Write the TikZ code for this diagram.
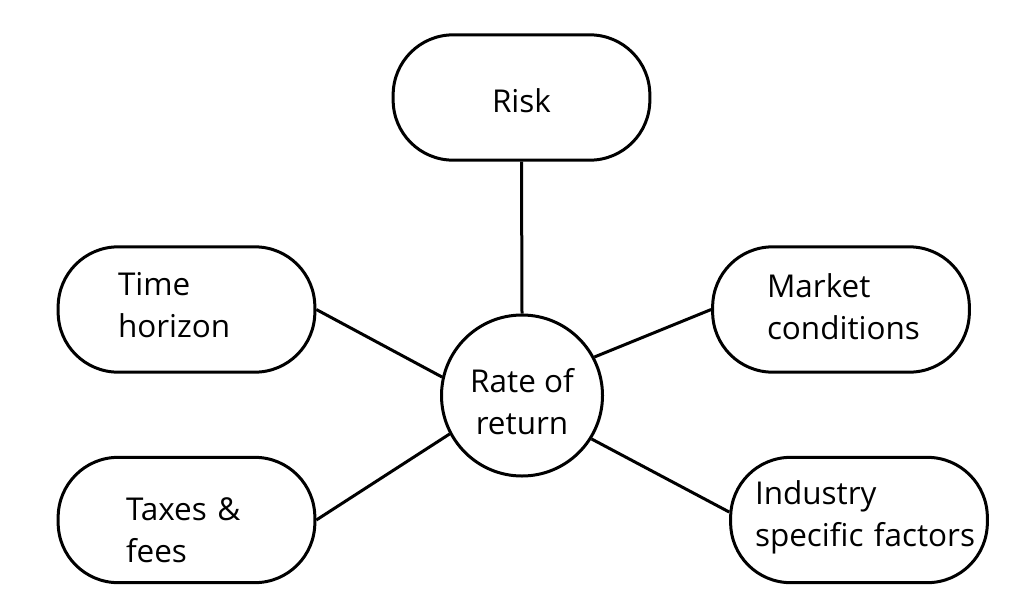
\documentclass[tikz,border=0pt]{standalone}
\usepackage{fontspec}
\setmainfont{Open Sans}
\newcommand\mytop[1]{\rule{0pt}{#1}}
\newcommand\mybot[1]{\rule[-#1]{0pt}{#1}}
\begin{document}
\begin{tikzpicture}[x=0.75pt,y=-0.75pt,
  every node/.style={font=\fontsize{23.6pt}{31.5pt}\selectfont},
  pill/.style={draw,line width=2.25pt,rounded corners=45pt,
    minimum width=192.5pt,minimum height=94pt,inner sep=0pt,align=left},
  hub/.style={draw,circle,line width=2.25pt,minimum size=120.75pt,inner sep=0pt,align=center},
  link/.style={line width=2.25pt}]
\useasboundingbox (0,0) rectangle (1024,600);
\node[pill,align=center] (risk) at (521.5,97.5) {\mytop{23.25pt}Risk};
\node[pill,text width=102.75pt] (time) at (186.5,309.5)
  {\mbox{\mytop{20pt}Time}\\\mbox{horizon\mybot{10.25pt}}};
\node[pill,text width=111pt] (market) at (841,309.5)
  {\mbox{\mytop{20pt}Market}\\\mbox{conditions\mybot{7.25pt}}};
\node[pill,text width=90.75pt] (taxes) at (186.5,520)
  {\mbox{\mytop{33pt}Taxes \&}\\\mbox{fees}};
\node[pill,text width=156pt] (industry) at (859,520)
  {\mbox{\mytop{20pt}Industry}\\\mbox{specific factors\mybot{12.5pt}}};
\node[hub] (rate) at (522,395.5) {\mytop{27.75pt}Rate of\\return};
\draw[link] (risk.south) -- (rate.north);
\draw[link] (time.east) -- (rate.167.5);
\draw[link] (taxes.east) -- (rate.208.7);
\draw[link] (market.west) -- (rate.28.5);
\draw[link] ([yshift=6pt]industry.west) -- (rate.-32.6);
\end{tikzpicture}
\end{document}
